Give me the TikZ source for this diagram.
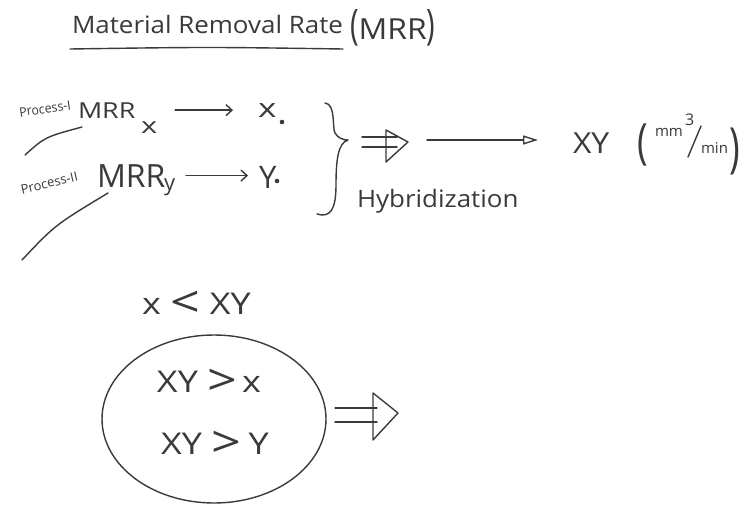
\documentclass[tikz,border=0pt]{standalone}
\usepackage{fontspec}
\setmainfont{Open Sans}
\usetikzlibrary{arrows.meta,calc}
\definecolor{inkc}{HTML}{3A3A3A}
\newcommand{\fs}[1]{\fontsize{#1}{#1}\selectfont}
\newcommand{\wider}[2]{\scalebox{#1}[1]{#2}}
\newcommand{\bigrel}[1]{\raisebox{-0.12em}{\scalebox{1.45}{#1}}}
\begin{document}
\begin{tikzpicture}[x=1pt,y=-1pt,
  pen/.style={draw=inkc, line width=1.4pt, line cap=round, line join=round},
  lbl/.style={text=inkc, inner sep=0pt, outer sep=0pt},
  barb/.style={pen, -{Straight Barb[length=6pt,width=11pt]}},
  longarrow/.style={pen, -{Triangle[open,length=15pt,width=9pt]}},
]
\useasboundingbox[fill=white] (0,0) rectangle (744,506);

% heading
\node[lbl, anchor=base west, font=\fs{24}] (title) at (72,33) {\wider{1.08}{Material Removal Rate}};
\node[lbl, anchor=base west, font=\fs{29}] (mrr) at (350,39)
  {\scalebox{1}[1.45]{(}\wider{1.1}{MRR}\scalebox{1}[1.45]{)}};
\draw[pen] ($(title.base west)+(-2,16)$) .. controls ($(title.base)+(0,14)$) .. ($(title.base east)+(0,16)$);

% process I
\node[lbl, anchor=base west, font=\fs{13}, rotate=8] (p1) at (20,117) {\wider{0.95}{Process-I}};
\draw[pen] (25,155) .. controls (45,137) .. (82,127);
\node[lbl, anchor=base west, font=\fs{22}] (m1) at (78,118) {\wider{1.22}{MRR}};
\node[lbl, anchor=base west, font=\fs{22}] (m1s) at (141,133) {\wider{1.4}{x}};
\node[lbl, anchor=base west, font=\fs{26}] (x1) at (258,117) {\wider{1.35}{x}};
\fill[inkc] (282,122) circle (2.3);
\draw[barb] ($(m1s.east |- m1.center)+(18,0)$) -- ($(x1.west |- m1.center)+(-25,0)$);

% process II
\node[lbl, anchor=base west, font=\fs{13}, rotate=13] (p2) at (22,194) {Process-II};
\draw[pen] (22,260) .. controls (55,225) .. (108,193);
\node[lbl, anchor=base west, font=\fs{32}] (m2) at (97,187) {MRR};
\node[lbl, anchor=base west, font=\fs{22}] (m2s) at (164,190) {y};
\node[lbl, anchor=base west, font=\fs{31}] (y1) at (259,188) {Y};
\fill[inkc] (277,181) circle (2.3);
\draw[barb] ($(m2s.east |- m2.center)+(11,0)$) -- ($(y1.west |- m2.center)+(-11,0)$);

% brace joining both rates
\draw[pen] (325,103) .. controls (336,104) and (332,128) .. (335,133)
  .. controls (338,138) and (343,140) .. (348,140)
  .. controls (338,143) and (336,160) .. (336,185)
  .. controls (336,210) and (330,218) .. (317,214);

% hybridization
\draw[pen] (362,137) -- (397,137);
\draw[pen] (362,147) -- (397,147);
\draw[pen] (386,130) -- (408,142) -- (386,162) -- cycle;
\node[lbl, anchor=base west, font=\fs{24}] (hyb) at (357,207) {\wider{1.08}{Hybridization}};
\coordinate (a0) at (427,140);
\node[lbl, anchor=base west, font=\fs{29}] (xy) at (573,153) {\wider{1.1}{XY}};
\draw[longarrow] (a0) -- ($(xy.west |- a0)+(-35,0)$);

% units
\node[lbl, anchor=base west, font=\fs{36}] (ulp) at (637,158) {\scalebox{1}[1.35]{(}};
\node[lbl, anchor=base west, font=\fs{15}] (umm) at (655,136) {mm};
\node[lbl, anchor=base west, font=\fs{16}] (u3) at (685,125) {3};
\draw[pen] (688,157) -- (701,126);
\node[lbl, anchor=base west, font=\fs{15}] (umin) at (701,153) {min};
\node[lbl, anchor=base west, font=\fs{36}] (urp) at (729,166) {\scalebox{1}[1.5]{)}};

% comparison
\node[lbl, anchor=base west, font=\fs{30}] (cmp) at (142,314) {\wider{1.2}{x\hspace{8pt}\bigrel{<}\hspace{8pt}XY}};
\draw[pen] (214,419) ellipse (112 and 84);
\node[lbl, anchor=base, font=\fs{30}] (c1) at (209,392) {\wider{1.2}{XY\hspace{8pt}\bigrel{>}\hspace{4pt}x}};
\node[lbl, anchor=base, font=\fs{30}] (c2) at (215,454) {\wider{1.2}{XY\hspace{8pt}\bigrel{>}\hspace{6pt}Y}};
\coordinate (e0) at (335,408);
\coordinate (e1) at (335,422);
\draw[pen] (e0) -- (377,408);
\draw[pen] (e1) -- (377,422);
\draw[pen] (373,393) -- (398,413) -- (373,440) -- cycle;
\end{tikzpicture}
\end{document}
